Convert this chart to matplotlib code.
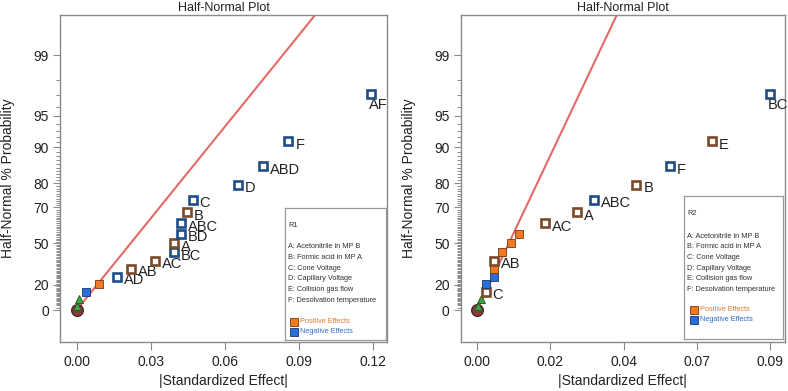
import numpy as np
import matplotlib
matplotlib.use("Agg")
import matplotlib.pyplot as plt
from statistics import NormalDist

plt.rcParams['font.family'] = ['Liberation Sans', 'DejaVu Sans']

# half-normal % probability of each ranked effect (same ranks in both plots)
half_normal_pct = [2.9, 8.8, 14.7, 20.6, 26.5, 32.4, 38.2, 44.1, 50.0, 55.9,
                   61.8, 67.6, 73.5, 79.4, 85.3, 91.2, 97.1]

# R1
r1_effect = [0.0003, 0.0009, 0.0038, 0.0089, 0.0164, 0.0218, 0.0317, 0.0394, 0.0394,
             0.0421, 0.0421, 0.0447, 0.0469, 0.0651, 0.0755, 0.0856, 0.1191]
r1_label = ['', '', '', '', 'AD', 'AB', 'AC', 'BC', 'A', 'BD', 'ABC', 'B', 'C', 'D',
            'ABD', 'F', 'AF']
r1_sign = ['tri', 'tri', '-', '+', '-', '+', '+', '-', '+', '-', '-', '+', '-', '-',
           '-', '-', '-']
r1_slope = 30.9   # z per unit effect of the red reference line

# R2
r2_effect = [0.0002, 0.0010, 0.0026, 0.0026, 0.0051, 0.0051, 0.0051, 0.0077, 0.0104,
             0.0129, 0.0207, 0.0308, 0.0359, 0.0489, 0.0592, 0.0721, 0.0899]
r2_label = ['', '', 'C', '', '', '', 'AB', '', '', '', 'AC', 'A', 'ABC', 'B', 'F',
            'E', 'BC']
r2_sign = ['tri', 'tri', '+', '-', '-', '+', '+', '+', '+', '+', '+', '+', '-', '+',
           '-', '+', '-']
r2_slope = 69.5

factor_names = ['A: Acetonitrile in MP B', 'B: Formic acid in MP A', 'C: Cone Voltage',
                'D: Capillary Voltage', 'E: Collision gas flow',
                'F: Desolvation temperature']
major_pct = [0, 20, 50, 70, 80, 90, 95, 99]

nd = NormalDist()
def hz(p):
    return nd.inv_cdf(0.5 + p / 200.0)

blue_edge = '#1f4d86'
brown_edge = '#7a4a2b'
orange = '#f07a22'
blue = '#2a6dd4'
grey = '#8a8a8a'


def panel(ax, effect, sign, label, slope, xmax):
    z = [hz(p) for p in half_normal_pct]
    xs = np.linspace(0, 0.2, 50)
    ax.plot(xs, xs * slope, color='#e46a66', lw=1.5, zorder=1)
    ax.plot(0, 0, 'o', ms=8.5, mfc='#8c3b3b', mec='#3a1a1a', mew=0.8, zorder=3)
    for x, y, s, lab in zip(effect, z, sign, label):
        if s == 'tri':
            ax.plot(x, y, '^', ms=6, mfc='#3ea543', mec='#1f4f1f', mew=0.6, zorder=4)
        elif lab == '':
            fc = orange if s == '+' else blue
            ec = '#7a3510' if s == '+' else '#1a3570'
            ax.plot(x, y, 's', ms=5.2, mfc=fc, mec=ec, mew=0.6, zorder=4)
        else:
            ec = brown_edge if s == '+' else blue_edge
            ax.plot(x, y, 's', ms=5.6, mfc='white', mec=ec, mew=1.9, zorder=4)
            if y > 2.0:
                ax.annotate(lab, (x, y), xytext=(-1.5, -3.0), textcoords='offset points',
                            ha='left', va='top', fontsize=10.5, color='#222222')
            else:
                ax.annotate(lab, (x, y), xytext=(5.0, -2.5), textcoords='offset points',
                            ha='left', va='center', fontsize=10.5, color='#222222')

    ax.set_ylim(-0.323, 2.98)
    ax.set_yticks([hz(p) for p in major_pct])
    ax.set_yticklabels([str(p) for p in major_pct])
    minor = [p for p in range(1, 99) if p not in major_pct and (p > 4 or p % 2 == 0)]
    ax.set_yticks([hz(p) for p in minor], minor=True)
    ticks = np.linspace(0, xmax, 5)
    ax.set_xticks(ticks)
    ax.set_xticklabels(['%.2f' % t for t in ticks])
    for sp in ax.spines.values():
        sp.set_color(grey)
        sp.set_linewidth(1.0)
    ax.tick_params(axis='y', which='major', length=5, color=grey, labelsize=10,
                   labelcolor='#222222', pad=3)
    ax.tick_params(axis='y', which='minor', length=3, color=grey, width=0.7)
    ax.tick_params(axis='x', which='major', length=5.5, color=grey, labelsize=10,
                   labelcolor='#222222', pad=4)
    ax.set_title('Half-Normal Plot', fontsize=9, color='#222222', pad=3)


def legend_box(rect, name, y_top, step, y_pos, y_neg, xt, xsq, xst):
    lax = fig.add_axes(rect)
    lax.set_xlim(0, 1)
    lax.set_ylim(0, 1)
    lax.set_xticks([])
    lax.set_yticks([])
    for sp in lax.spines.values():
        sp.set_color('#999999')
        sp.set_linewidth(0.9)
    lax.text(xt, y_top, name, fontsize=5.3, color='#333333', va='center')
    for i, f in enumerate(factor_names):
        lax.text(xt, y_top - 0.16 - i * step, f, fontsize=5.3, color='#333333',
                 va='center')
    lax.plot(xsq, y_pos, 's', ms=6, mfc=orange, mec='#7a3510', mew=0.6)
    lax.plot(xsq, y_neg, 's', ms=6, mfc=blue, mec='#1a3570', mew=0.6)
    lax.text(xst, y_pos, 'Positive Effects', fontsize=5.3, color='#e07a30', va='center')
    lax.text(xst, y_neg, 'Negative Effects', fontsize=5.3, color='#2f6fc4', va='center')


fig = plt.figure(figsize=(7.88, 3.91), dpi=100)
ax1 = fig.add_axes([0.0761, 0.1253, 0.415, 0.8363])
ax2 = fig.add_axes([0.5846, 0.1253, 0.4112, 0.8363])

panel(ax1, r1_effect, r1_sign, r1_label, r1_slope, 0.12)
ax1.set_xlim(-0.00675, 0.1255)
panel(ax2, r2_effect, r2_sign, r2_label, r2_slope, 0.09)
ax2.set_xlim(-0.0051, 0.0945)

for xc in [8.5 / 788, 409 / 788]:
    fig.text(xc, 1 - 178 / 391, 'Half-Normal % Probability', rotation=90, ha='center',
             va='center', fontsize=10, color='#222222')
for xc in [223.5 / 788, 622.7 / 788]:
    fig.text(xc, 1 - 381.5 / 391, '|Standardized Effect|', ha='center', va='center',
             fontsize=10, color='#222222')

legend_box([285 / 788, 1 - 340 / 391, 101 / 788, 132 / 391], 'R1',
           0.866, 0.081, 0.139, 0.061, 0.03, 0.09, 0.15)
legend_box([684 / 788, 1 - 339 / 391, 99 / 788, 143 / 391], 'R2',
           0.879, 0.0748, 0.205, 0.133, 0.03, 0.10, 0.16)

fig.savefig('out.png', dpi=100)
